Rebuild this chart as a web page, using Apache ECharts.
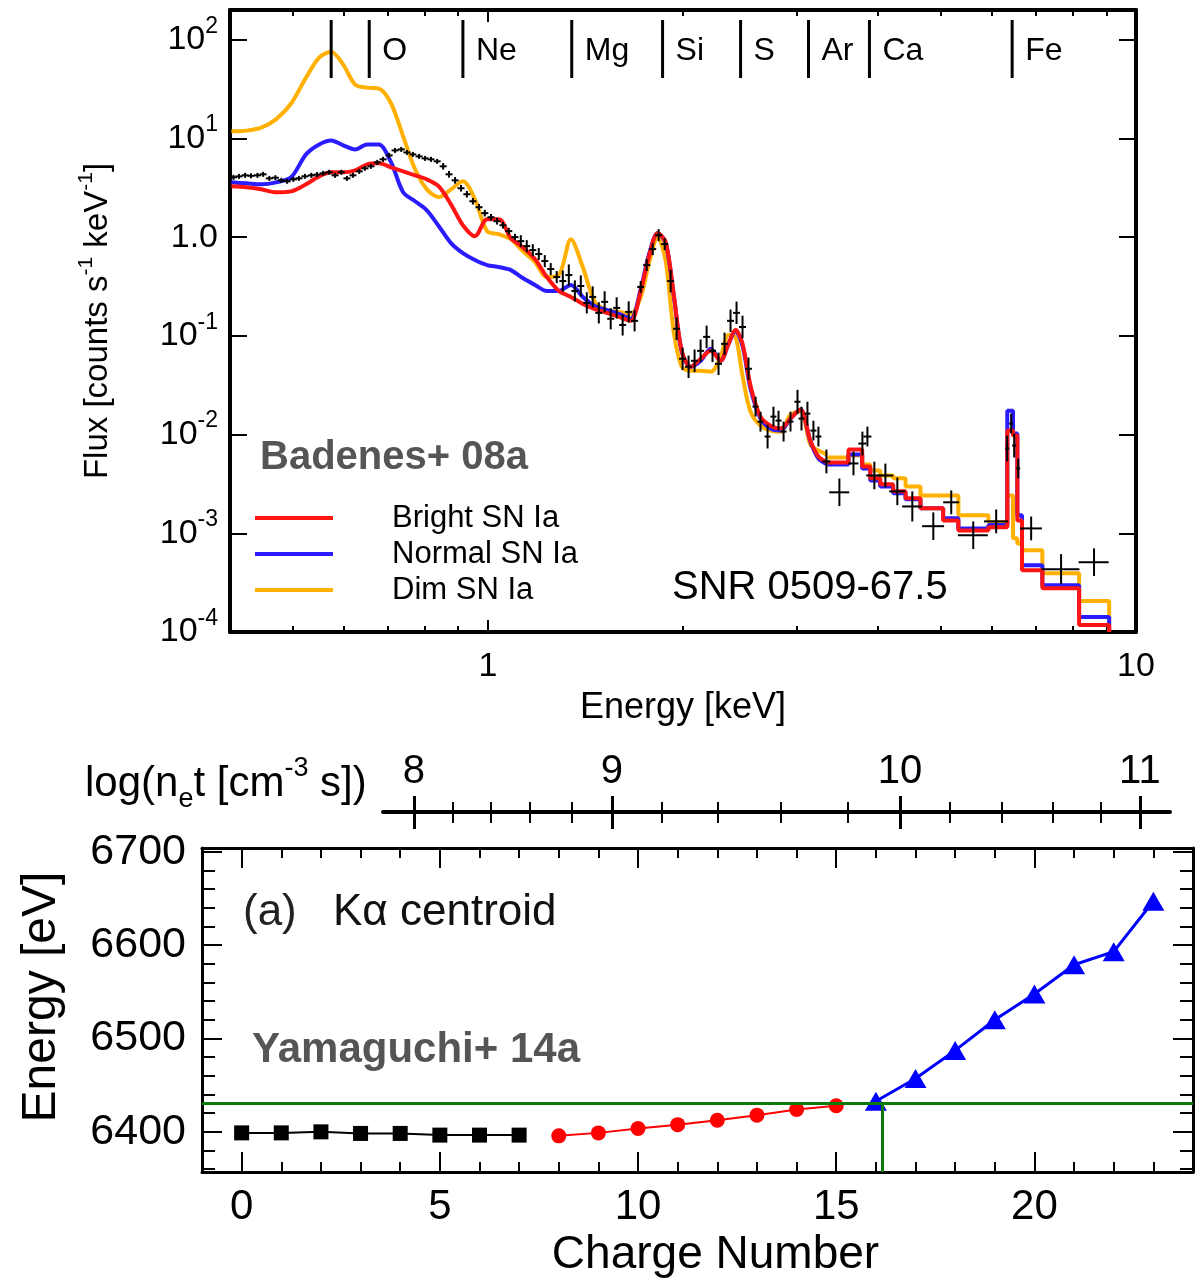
<!DOCTYPE html>
<html>
<head>
<meta charset="utf-8">
<title>SNR 0509-67.5 spectrum and Fe K-alpha centroid</title>
<script src="https://cdn.jsdelivr.net/npm/echarts@6.0.0/dist/echarts.min.js"></script>
<style>
html, body { margin: 0; padding: 0; background: #fff; }
#main { width: 1197px; height: 1284px; }
</style>
</head>
<body>
<div id="main"></div>
<script>
var FONT = '"Liberation Sans", Arial, Helvetica, sans-serif';

/* ---- top panel: model spectra (smooth part) ---- */
var modelE = [0.402, 0.424, 0.447, 0.471, 0.497, 0.524, 0.549, 0.573, 0.598, 0.624,
    0.651, 0.679, 0.709, 0.740, 0.772, 0.805, 0.840, 0.877, 0.915, 0.955,
    0.997, 1.040, 1.085, 1.132, 1.182, 1.233, 1.287, 1.343, 1.401, 1.462,
    1.526, 1.592, 1.661, 1.721, 1.771, 1.828, 1.881, 1.935, 1.991, 2.055,
    2.130, 2.207, 2.286, 2.351, 2.410, 2.471, 2.542, 2.634, 2.730, 2.828,
    2.930, 3.036, 3.145, 3.236, 3.341];
var brightF = [3.27, 3.20, 3.05, 2.85, 2.91, 3.43, 4.13, 4.54, 4.54, 4.75,
    5.46, 5.59, 5.10, 4.64, 4.23, 3.85, 3.27, 2.15, 1.32, 1.02,
    1.52, 1.52, 0.977, 0.792, 0.600, 0.394, 0.285, 0.248, 0.211, 0.187,
    0.171, 0.156, 0.142, 0.285, 0.628, 1.10, 0.890, 0.266, 0.0705, 0.0486,
    0.0586, 0.0705, 0.0559, 0.0830, 0.115, 0.0830, 0.0313, 0.0152, 0.0123, 0.0115,
    0.0145, 0.0179, 0.00869, 0.00600, 0.00521];
var normalF = [3.59, 3.51, 3.43, 3.59, 4.04, 6.89, 8.70, 9.55, 8.50, 7.74,
    8.70, 8.70, 5.72, 2.85, 2.31, 1.87, 1.29, 0.870, 0.689, 0.586,
    0.521, 0.498, 0.464, 0.385, 0.328, 0.285, 0.285, 0.328, 0.248, 0.201,
    0.183, 0.167, 0.149, 0.298, 0.658, 1.10, 0.870, 0.260, 0.0689, 0.0486,
    0.0559, 0.0739, 0.0559, 0.0830, 0.112, 0.0792, 0.0292, 0.0145, 0.0115, 0.0110,
    0.0145, 0.0179, 0.00850, 0.00573, 0.00498];
var dimF = [11.8, 12.0, 12.9, 15.6, 22.6, 41.3, 65.8, 75.6, 55.9, 35.1,
    32.7, 32.0, 22.6, 10.5, 4.87, 3.05, 2.54, 3.05, 3.68, 2.42,
    1.15, 1.07, 0.954, 0.722, 0.559, 0.394, 0.413, 0.954, 0.498, 0.221,
    0.183, 0.175, 0.167, 0.248, 0.533, 1.00, 0.572, 0.110, 0.0486, 0.0443,
    0.0443, 0.0433, 0.0614, 0.102, 0.0977, 0.0394, 0.0171, 0.0123, 0.0110, 0.0107,
    0.0159, 0.0171, 0.00792, 0.00689, 0.00628];

/* ---- top panel: binned model spectra above 3.3 keV ---- */
var stepEdges = [3.34, 3.60, 3.78, 3.89, 4.03, 4.22, 4.41, 4.65, 5.04, 5.32, 5.92, 6.33, 6.46, 6.56, 6.67, 7.17, 8.17, 9.09];
var brightStep = [0.00521, 0.00705, 0.00475, 0.00360, 0.00313, 0.00266, 0.00226, 0.00179, 0.00135, 0.00107, 0.00115, 0.01097, 0.00977, 0.00135, 0.000423, 0.000278, 0.000118];
var normalStep = [0.00498, 0.00628, 0.00454, 0.00343, 0.00298, 0.00254, 0.00221, 0.00179, 0.00142, 0.00112, 0.00121, 0.01747, 0.01023, 0.00152, 0.000475, 0.000298, 0.000142];
var dimStep = [0.00586, 0.00614, 0.00498, 0.00433, 0.00385, 0.00360, 0.00298, 0.00242, 0.00242, 0.00152, 0.00129, 0.00242, 0.00089, 0.00079, 0.000673, 0.000394, 0.000206];

/* ---- top panel: observed spectrum (dense channels) ---- */
var denseE = [0.405, 0.413, 0.422, 0.431, 0.441, 0.450, 0.460, 0.470, 0.480, 0.490,
    0.501, 0.511, 0.522, 0.534, 0.545, 0.557, 0.569, 0.581, 0.594, 0.606,
    0.619, 0.633, 0.646, 0.660, 0.675, 0.689, 0.704, 0.719, 0.735, 0.750,
    0.766, 0.783, 0.800, 0.817, 0.835, 0.853, 0.871, 0.890, 0.909, 0.928,
    0.948, 0.969, 0.989, 1.011, 1.033, 1.055, 1.077, 1.101, 1.124, 1.148,
    1.173, 1.198, 1.224, 1.250, 1.277, 1.305, 1.333, 1.362, 1.391, 1.421,
    1.451, 1.483, 1.514, 1.547, 1.580, 1.614, 1.649, 1.684, 1.721, 1.758,
    1.796, 1.834, 1.874, 1.914, 1.955, 1.997, 2.040, 2.084, 2.129, 2.175,
    2.221, 2.269, 2.318, 2.368, 2.419, 2.471, 2.524];
var denseF = [4.04, 4.13, 4.23, 4.18, 4.23, 4.33, 3.94, 4.00, 3.76, 3.68,
    3.85, 3.94, 4.13, 4.23, 4.30, 4.43, 4.54, 4.23, 4.54, 3.94,
    4.23, 4.64, 4.98, 5.22, 5.72, 6.14, 6.73, 7.56, 7.74, 7.22,
    6.89, 6.58, 6.28, 6.14, 5.86, 5.22, 4.33, 3.76, 3.13, 2.72,
    2.31, 2.01, 1.75, 1.59, 1.45, 1.32, 1.15, 1.00, 0.911, 0.811,
    0.739, 0.674, 0.572, 0.475, 0.394, 0.359, 0.413, 0.285, 0.320, 0.216,
    0.248, 0.171, 0.221, 0.149, 0.192, 0.129, 0.175, 0.142, 0.313, 0.521,
    0.756, 1.047, 0.850, 0.359, 0.118, 0.0586, 0.0486, 0.0559, 0.0705, 0.0977,
    0.0705, 0.0521, 0.0830, 0.142, 0.171, 0.123, 0.0464];
var denseErr = [0.06, 0.06, 0.06, 0.06, 0.06, 0.06, 0.06, 0.06, 0.06, 0.06,
    0.06, 0.06, 0.06, 0.06, 0.06, 0.06, 0.06, 0.06, 0.06, 0.06,
    0.06, 0.06, 0.06, 0.06, 0.06, 0.06, 0.06, 0.06, 0.06, 0.06,
    0.06, 0.06, 0.06, 0.06, 0.06, 0.08, 0.08, 0.08, 0.08, 0.08,
    0.08, 0.08, 0.08, 0.08, 0.08, 0.08, 0.08, 0.08, 0.15, 0.15,
    0.15, 0.15, 0.15, 0.15, 0.15, 0.28, 0.28, 0.28, 0.28, 0.28,
    0.28, 0.28, 0.28, 0.28, 0.28, 0.28, 0.28, 0.28, 0.15, 0.15,
    0.15, 0.15, 0.15, 0.30, 0.30, 0.30, 0.30, 0.30, 0.30, 0.30,
    0.30, 0.30, 0.30, 0.30, 0.30, 0.30, 0.30];

/* ---- top panel: observed spectrum (wide bins, with energy widths) ---- */
var obsE = [2.588, 2.634, 2.701, 2.758, 2.808, 2.859, 2.930, 3.004, 3.047, 3.112,
    3.179, 3.236, 3.329, 3.486, 3.665, 3.783, 3.851, 3.947, 4.105, 4.283,
    4.517, 4.867, 5.187, 5.609, 6.085, 6.327, 6.418, 6.487, 6.580, 6.890,
    7.663, 8.615];
var obsF = [0.0192, 0.0135, 0.00955, 0.0152, 0.01385, 0.01072, 0.01353, 0.0215, 0.01452, 0.0163,
    0.01097, 0.00955, 0.00534, 0.00260, 0.00510, 0.00811, 0.00955, 0.00385, 0.00385, 0.00266,
    0.00187, 0.00118, 0.00206, 0.000955, 0.00132, 0.00722, 0.01292, 0.00774, 0.00454, 0.00112,
    0.000433, 0.000509];
var obsErr = [0.26, 0.26, 0.32, 0.26, 0.26, 0.26, 0.26, 0.32, 0.32, 0.32,
    0.26, 0.26, 0.32, 0.38, 0.32, 0.32, 0.26, 0.38, 0.32, 0.38,
    0.42, 0.38, 0.32, 0.38, 0.32, 0.35, 0.26, 0.32, 0.26, 0.32,
    0.42, 0.38];
var obsEw = [0.028, 0.028, 0.029, 0.029, 0.030, 0.030, 0.031, 0.032, 0.032, 0.033,
    0.034, 0.034, 0.047, 0.124, 0.065, 0.054, 0.055, 0.112, 0.117, 0.122,
    0.160, 0.190, 0.147, 0.298, 0.259, 0.045, 0.046, 0.046, 0.047, 0.269,
    0.517, 0.458];

/* element line markers (keV) */
var elemE = [0.573, 0.656, 0.915, 1.347, 1.860, 2.454, 3.124, 3.879, 6.44];
var elemNames = ['', 'O', 'Ne', 'Mg', 'Si', 'S', 'Ar', 'Ca', 'Fe'];

/* ---- bottom panel: Fe K-alpha centroid vs charge number ---- */
var chargeLow = [0, 1, 2, 3, 4, 5, 6, 7];
var energyLow = [6398.9, 6398.9, 6400.0, 6398.3, 6398.3, 6396.5, 6396.5, 6396.5];
var chargeMid = [8, 9, 10, 11, 12, 13, 14, 15];
var energyMid = [6395.7, 6398.9, 6403.6, 6407.7, 6412.5, 6417.9, 6424.0, 6427.9];
var chargeHigh = [16, 17, 18, 19, 20, 21, 22, 23];
var energyHigh = [6432.7, 6457.2, 6487.2, 6520.0, 6547.6, 6579.0, 6593.0, 6647.0];
var observedCentroid = 6431;
var observedCharge = 16.16;

/* tick values */
var fluxTicks = [1e-4, 1e-3, 1e-2, 0.1, 1, 10, 100];
var energyMajorTicks = [1, 10];
var energyMinorTicks = [0.5, 0.6, 0.7, 0.8, 0.9, 2, 3, 4, 5, 6, 7, 8, 9];
var chargeMajorTicks = [0, 5, 10, 15, 20];
var chargeMinorTicks = [1, 2, 3, 4, 6, 7, 8, 9, 11, 12, 13, 14, 16, 17, 18, 19, 21, 22, 23];
var kaMajorTicks = [6400, 6500, 6600, 6700];
var kaMinorTicks = [6360, 6380, 6420, 6440, 6460, 6480, 6520, 6540, 6560, 6580, 6620, 6640, 6660, 6680];
var netLabels = ['8', '9', '10', '11'];
var netMajorPos = [4.35, 9.34, 16.61, 22.66];
var netMinorPos = [5.33, 6.29, 7.28, 8.34, 10.6, 12.02, 13.6, 15.3, 17.87, 19.18, 20.47, 21.68, 23.49];

//平滑部分
function buildSmooth(smooth) {
    var d = [];
    for (var i = 0; i < modelE.length; i++) {
        d.push([modelE[i], smooth[i]]);
    }
    return d;
}
//分箱部分(台阶)
function buildSteps(steps) {
    var d = [];
    for (var j = 0; j < steps.length; j++) {
        d.push([stepEdges[j], steps[j]]);
        d.push([stepEdges[j + 1], steps[j]]);
    }
    d.push([stepEdges[stepEdges.length - 1], 1e-4]);
    return d;
}

function zip(a, b) {
    var d = [];
    for (var i = 0; i < a.length; i++) d.push([a[i], b[i]]);
    return d;
}

var specData = [];
for (var i = 0; i < denseE.length; i++) specData.push([denseE[i], denseF[i], denseErr[i], 0]);
for (var k = 0; k < obsE.length; k++) specData.push([obsE[k], obsF[k], obsErr[k], obsEw[k]]);

//框线上的刻度轴
function tickAxis(grid, pos, type, min, max, ticks, len, lineWidth, inside) {
    return {
        gridIndex: grid, type: type, position: pos, min: min, max: max,
        axisLine: { show: lineWidth > 0, onZero: false, lineStyle: { color: '#000', width: lineWidth || 1 } },
        axisTick: { show: true, inside: inside !== false, length: len, customValues: ticks, lineStyle: { color: '#000', width: 2 } },
        axisLabel: { show: false },
        splitLine: { show: false },
        minorTick: { show: false }
    };
}

function modelSeries(name, data, color, z, smooth) {
    return {
        name: name, type: 'line', xAxisIndex: 0, yAxisIndex: 0,
        data: data, showSymbol: false, color: color, smooth: smooth,
        lineStyle: { width: 4, color: color }, z: z
    };
}

var xTopMain = tickAxis(0, 'bottom', 'log', 0.4, 10, energyMajorTicks, 12, 4);
xTopMain.axisLabel = {
    show: true, customValues: energyMajorTicks, fontSize: 34, color: '#000', fontFamily: FONT, margin: 18,
    formatter: function (v) { return v >= 10 ? '10' : '1'; }
};
xTopMain.name = 'Energy [keV]';
xTopMain.nameLocation = 'middle';
xTopMain.nameGap = 58;
xTopMain.nameMoveOverlap = false;
xTopMain.nameTextStyle = { fontSize: 36, color: '#000', fontFamily: FONT };

var yTopMain = tickAxis(0, 'left', 'log', 1e-4, 200, fluxTicks, 17, 4);
yTopMain.axisLabel = {
    show: true, customValues: fluxTicks, color: '#000', fontFamily: FONT, margin: 12,
    formatter: function (v) {
        var p = Math.round(Math.log(v) / Math.LN10);
        if (p === 0) return '{m|1.0}';
        return '{m|10}{s|' + p + '}';
    },
    rich: {
        m: { fontSize: 34, lineHeight: 50, verticalAlign: 'middle', fontFamily: FONT, color: '#000' },
        s: { fontSize: 23, lineHeight: 23, verticalAlign: 'top', fontFamily: FONT, color: '#000' }
    }
};
yTopMain.name = '{a|Flux [counts s}{s|-1}{a| keV}{s|-1}{a|]}';
yTopMain.nameLocation = 'middle';
yTopMain.nameGap = 110;
yTopMain.nameRotate = 90;
yTopMain.nameMoveOverlap = false;
yTopMain.nameTextStyle = {
    color: '#000', fontFamily: FONT,
    rich: {
        a: { fontSize: 33, lineHeight: 44, verticalAlign: 'middle', fontFamily: FONT, color: '#000' },
        s: { fontSize: 21, lineHeight: 21, verticalAlign: 'top', fontFamily: FONT, color: '#000' }
    }
};

var xBotMain = tickAxis(1, 'bottom', 'value', -1, 24, chargeMajorTicks, 20, 3);
xBotMain.axisLabel = {
    show: true, customValues: chargeMajorTicks, fontSize: 42, color: '#000', fontFamily: FONT, margin: 14,
    formatter: function (v) { return String(v); }
};
xBotMain.name = 'Charge Number';
xBotMain.nameLocation = 'middle';
xBotMain.nameGap = 60;
xBotMain.nameMoveOverlap = false;
xBotMain.nameTextStyle = { fontSize: 46, color: '#000', fontFamily: FONT, padding: [0, 0, 0, 36] };

var yBotMain = tickAxis(1, 'left', 'value', 6357, 6704, kaMajorTicks, 20, 3);
yBotMain.axisLabel = {
    show: true, customValues: kaMajorTicks, fontSize: 43, color: '#000', fontFamily: FONT, margin: 16,
    formatter: function (v) { return String(v); }
};
yBotMain.name = 'Energy [eV]';
yBotMain.nameLocation = 'middle';
yBotMain.nameGap = 136;
yBotMain.nameRotate = 90;
yBotMain.nameMoveOverlap = false;
yBotMain.nameTextStyle = { fontSize: 48, color: '#000', fontFamily: FONT, padding: [0, 0, 0, 26] };

var xNetMain = tickAxis(2, 'top', 'value', 3.57, 23.42, netMajorPos, 16, 4, false);
xNetMain.axisTick.lineStyle.width = 3;
xNetMain.axisLabel = {
    show: true, customValues: netMajorPos, fontSize: 40, color: '#000', fontFamily: FONT, margin: 20,
    formatter: function (v) { return netLabels[netMajorPos.indexOf(v)]; }
};
var xNetBottom = tickAxis(2, 'bottom', 'value', 3.57, 23.42, netMajorPos, 16, 0, false);
xNetBottom.axisTick.lineStyle.width = 3;

var option = {
    animation: false,
    backgroundColor: '#fff',
    textStyle: { fontFamily: FONT },
    grid: [
        { left: 230, top: 10, width: 906, height: 622, outerBoundsMode: 'none' },
        { left: 202, top: 848, width: 991, height: 324, outerBoundsMode: 'none' },
        { left: 383, top: 812, width: 787, height: 1, outerBoundsMode: 'none' }
    ],
    xAxis: [
        xTopMain,
        tickAxis(0, 'bottom', 'log', 0.4, 10, energyMinorTicks, 6, 0),
        tickAxis(0, 'top', 'log', 0.4, 10, energyMajorTicks, 12, 4),
        tickAxis(0, 'top', 'log', 0.4, 10, energyMinorTicks, 6, 0),
        xBotMain,
        tickAxis(1, 'bottom', 'value', -1, 24, chargeMinorTicks, 10, 0),
        tickAxis(1, 'top', 'value', -1, 24, chargeMajorTicks, 20, 3),
        tickAxis(1, 'top', 'value', -1, 24, chargeMinorTicks, 10, 0),
        xNetMain,
        xNetBottom,
        tickAxis(2, 'top', 'value', 3.57, 23.42, netMinorPos, 10, 0, false),
        tickAxis(2, 'bottom', 'value', 3.57, 23.42, netMinorPos, 10, 0, false)
    ],
    yAxis: [
        yTopMain,
        tickAxis(0, 'right', 'log', 1e-4, 200, fluxTicks, 17, 4),
        yBotMain,
        tickAxis(1, 'left', 'value', 6357, 6704, kaMinorTicks, 13, 0),
        tickAxis(1, 'right', 'value', 6357, 6704, kaMajorTicks, 20, 3),
        tickAxis(1, 'right', 'value', 6357, 6704, kaMinorTicks, 13, 0),
        { gridIndex: 2, type: 'value', show: false, min: 0, max: 1 }
    ],
    legend: {
        data: ['Bright SN Ia', 'Normal SN Ia', 'Dim SN Ia'],
        orient: 'vertical', left: 255, top: 502, padding: 0,
        icon: 'rect', itemWidth: 78, itemHeight: 4, itemGap: 4,
        selectedMode: false,
        textStyle: { fontSize: 31, color: '#000', fontFamily: FONT, lineHeight: 32, padding: [0, 0, 0, 54] }
    },
    graphic: [
        { type: 'text', x: 260, y: 458, style: { text: 'Badenes+ 08a', fontSize: 40, fontWeight: 'bold', fontFamily: FONT, fill: '#555', verticalAlign: 'middle' } },
        { type: 'text', x: 672, y: 588, style: { text: 'SNR 0509-67.5', fontSize: 40, fontFamily: FONT, fill: '#000', verticalAlign: 'middle' } },
        { type: 'text', x: 243, y: 913, style: { text: '(a)', fontSize: 44, fontFamily: FONT, fill: '#222', verticalAlign: 'middle' } },
        { type: 'text', x: 333, y: 913, style: { text: 'K\u03b1 centroid', fontSize: 44, fontFamily: FONT, fill: '#111', verticalAlign: 'middle' } },
        { type: 'text', x: 252, y: 1050, style: { text: 'Yamaguchi+ 14a', fontSize: 42, fontWeight: 'bold', fontFamily: FONT, fill: '#555', verticalAlign: 'middle' } },
        {
            type: 'text', x: 85, y: 784,
            style: {
                text: '{a|log(n}{b|e}{a|t [cm}{c|-3}{a| s])}', verticalAlign: 'middle',
                rich: {
                    a: { fontSize: 42, lineHeight: 58, verticalAlign: 'middle', fontFamily: FONT, fill: '#000' },
                    b: { fontSize: 27, lineHeight: 31, verticalAlign: 'bottom', fontFamily: FONT, fill: '#000' },
                    c: { fontSize: 27, lineHeight: 27, verticalAlign: 'top', fontFamily: FONT, fill: '#000' }
                }
            }
        }
    ],
    series: [
        modelSeries('Dim SN Ia', buildSmooth(dimF), '#ffb000', 2, 0.3),
        modelSeries('Dim SN Ia', buildSteps(dimStep), '#ffb000', 2, false),
        modelSeries('Normal SN Ia', buildSmooth(normalF), '#2b1cff', 3, 0.3),
        modelSeries('Normal SN Ia', buildSteps(normalStep), '#2b1cff', 3, false),
        modelSeries('Bright SN Ia', buildSmooth(brightF), '#ff1414', 4, 0.3),
        modelSeries('Bright SN Ia', buildSteps(brightStep), '#ff1414', 4, false),
        {
            name: 'data', type: 'custom', xAxisIndex: 0, yAxisIndex: 0, z: 5,
            data: specData, encode: { x: 0, y: 1 },
            renderItem: function (params, api) {
                var e = api.value(0), f = api.value(1), err = api.value(2), ew = api.value(3);
                var c = api.coord([e, f]);
                var lo = api.coord([e, f / (1 + err)]);
                var hi = api.coord([e, f * (1 + err)]);
                var l = c[0] - 3.5, r = c[0] + 3.5;
                if (ew > 0) {
                    l = api.coord([e - ew, f])[0];
                    r = api.coord([e + ew, f])[0];
                }
                return {
                    type: 'group',
                    children: [
                        { type: 'line', shape: { x1: c[0], y1: lo[1], x2: c[0], y2: hi[1] }, style: { stroke: '#000', lineWidth: 2 } },
                        { type: 'line', shape: { x1: l, y1: c[1], x2: r, y2: c[1] }, style: { stroke: '#000', lineWidth: 2 } }
                    ]
                };
            }
        },
        {
            name: 'elements', type: 'custom', xAxisIndex: 0, yAxisIndex: 0, z: 6,
            data: elemE.map(function (e) { return [e, 1]; }), encode: { x: 0, y: 1 },
            renderItem: function (params, api) {
                var x = api.coord([api.value(0), 1])[0];
                var top = params.coordSys.y;
                var name = elemNames[params.dataIndex];
                var children = [{ type: 'line', shape: { x1: x, y1: top + 10, x2: x, y2: top + 68 }, style: { stroke: '#000', lineWidth: 3 } }];
                if (name) {
                    children.push({ type: 'text', x: x + 13, y: top + 41, style: { text: name, fontSize: 32, fontFamily: FONT, fill: '#000', verticalAlign: 'middle' } });
                }
                return { type: 'group', children: children };
            }
        },
        {
            name: 'observed', type: 'line', xAxisIndex: 4, yAxisIndex: 2, data: [], z: 1,
            markLine: {
                silent: true, symbol: 'none', label: { show: false },
                lineStyle: { color: '#0b7a0b', width: 3, type: 'solid' },
                data: [
                    { yAxis: observedCentroid },
                    [{ coord: [observedCharge, 6357] }, { coord: [observedCharge, observedCentroid] }]
                ]
            }
        },
        {
            name: 'low', type: 'line', xAxisIndex: 4, yAxisIndex: 2, z: 3,
            data: zip(chargeLow, energyLow), symbol: 'rect', symbolSize: 15, showSymbol: true,
            color: '#000', itemStyle: { color: '#000' }, lineStyle: { color: '#000', width: 2 }
        },
        {
            name: 'mid', type: 'line', xAxisIndex: 4, yAxisIndex: 2, z: 3,
            data: zip(chargeMid, energyMid), symbol: 'circle', symbolSize: 15, showSymbol: true,
            color: '#ff0000', itemStyle: { color: '#ff0000' }, lineStyle: { color: '#ff0000', width: 2 }
        },
        {
            name: 'high', type: 'line', xAxisIndex: 4, yAxisIndex: 2, z: 3,
            data: zip(chargeHigh, energyHigh), symbol: 'triangle', symbolSize: [22, 19], showSymbol: true,
            color: '#0000ff', itemStyle: { color: '#0000ff' }, lineStyle: { color: '#0000ff', width: 3 }
        }
    ]
};

var myChart = echarts.init(document.getElementById('main'));
myChart.setOption(option);
</script>
</body>
</html>
